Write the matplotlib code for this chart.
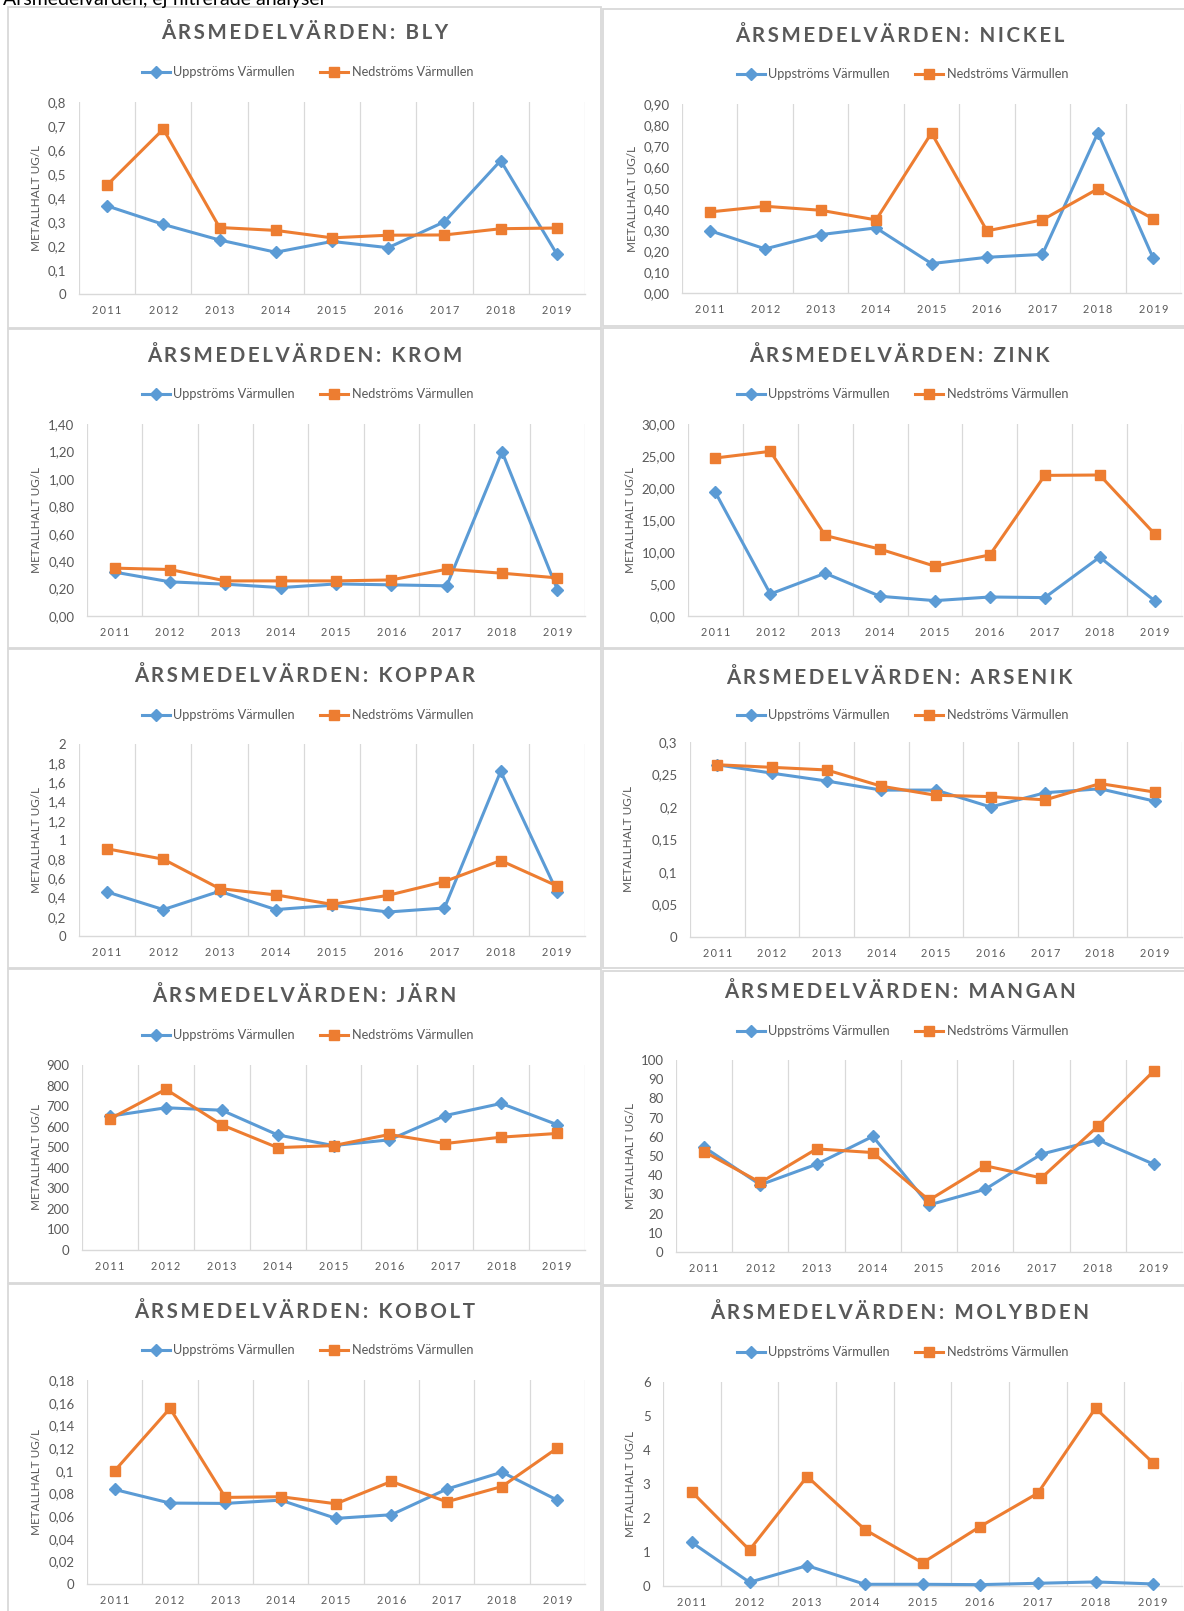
import matplotlib
matplotlib.use("Agg")
import matplotlib.pyplot as plt
from matplotlib.patches import Rectangle

# ---------------------------------------------------------------- data
years = [2011, 2012, 2013, 2014, 2015, 2016, 2017, 2018, 2019]
series_names = ["Uppströms Värmullen", "Nedströms Värmullen"]

bly_upp = [0.367, 0.290, 0.225, 0.174, 0.219, 0.193, 0.301, 0.556, 0.166]
bly_ned = [0.454, 0.687, 0.277, 0.265, 0.234, 0.245, 0.246, 0.272, 0.275]

nickel_upp = [0.297, 0.210, 0.278, 0.310, 0.140, 0.170, 0.184, 0.762, 0.165]
nickel_ned = [0.386, 0.413, 0.394, 0.348, 0.762, 0.296, 0.348, 0.496, 0.353]

krom_upp = [0.320, 0.249, 0.232, 0.207, 0.234, 0.227, 0.220, 1.198, 0.193]
krom_ned = [0.349, 0.339, 0.256, 0.256, 0.256, 0.263, 0.341, 0.312, 0.278]

zink_upp = [19.30, 3.44, 6.68, 3.08, 2.40, 2.97, 2.87, 9.19, 2.40]
zink_ned = [24.69, 25.73, 12.58, 10.44, 7.78, 9.55, 21.97, 22.03, 12.84]

koppar_upp = [0.459, 0.275, 0.466, 0.275, 0.320, 0.250, 0.292, 1.715, 0.463]
koppar_ned = [0.908, 0.800, 0.494, 0.428, 0.330, 0.424, 0.567, 0.786, 0.522]

arsenik_upp = [0.265, 0.252, 0.240, 0.226, 0.226, 0.200, 0.222, 0.228, 0.209]
arsenik_ned = [0.265, 0.261, 0.257, 0.232, 0.218, 0.216, 0.211, 0.236, 0.223]

jarn_upp = [651, 692, 680, 560, 508, 536, 654, 713, 610]
jarn_ned = [638, 782, 609, 498, 508, 562, 518, 549, 567]

mangan_upp = [54.6, 35.0, 45.7, 60.2, 24.5, 32.7, 51.0, 58.4, 45.7]
mangan_ned = [52.3, 36.2, 53.7, 51.8, 27.0, 44.9, 38.6, 65.4, 94.3]

kobolt_upp = [0.0834, 0.0714, 0.0711, 0.0740, 0.0579, 0.0611, 0.0837, 0.0987, 0.0740]
kobolt_ned = [0.0999, 0.1550, 0.0764, 0.0770, 0.0708, 0.0905, 0.0725, 0.0860, 0.1200]

molybden_upp = [1.28, 0.11, 0.60, 0.05, 0.05, 0.04, 0.08, 0.12, 0.06]
molybden_ned = [2.77, 1.06, 3.22, 1.66, 0.68, 1.75, 2.73, 5.23, 3.62]

metals = ["BLY", "NICKEL", "KROM", "ZINK", "KOPPAR",
          "ARSENIK", "JÄRN", "MANGAN", "KOBOLT", "MOLYBDEN"]
upp_values = [bly_upp, nickel_upp, krom_upp, zink_upp, koppar_upp,
              arsenik_upp, jarn_upp, mangan_upp, kobolt_upp, molybden_upp]
ned_values = [bly_ned, nickel_ned, krom_ned, zink_ned, koppar_ned,
              arsenik_ned, jarn_ned, mangan_ned, kobolt_ned, molybden_ned]
# y axis: (max, step, decimals or None for general number format)
y_axes = [(0.8, 0.1, None), (0.9, 0.1, 2), (1.4, 0.2, 2), (30, 5, 2),
          (2.0, 0.2, None), (0.3, 0.05, None), (900, 100, None),
          (100, 10, None), (0.18, 0.02, None), (6, 1, None)]

page_title = "Årsmedelvärden, ej filtrerade analyser"
chart_title = "ÅRSMEDELVÄRDEN: "
y_label = "METALLHALT UG/L"

# ---------------------------------------------------------------- layout (pixels)
W, H, DPI = 1184, 1611, 100
# frame (x0, y0, x1, y1), plot (left, right, top, bottom), title y, legend y, ylabel x
layout = [
    ((8, 7, 601, 328),      (79, 585, 102, 294),    33, 72, 36),
    ((603, 9, 1192, 326),   (682, 1181, 104, 293),  36, 74, 633),
    ((8, 329, 601, 648),    (87, 585, 424, 616),    356, 394, 37),
    ((603, 328, 1192, 648), (688, 1182, 424, 616),  356, 394, 630),
    ((8, 649, 601, 968),    (79, 585, 744, 936),    676, 715, 37),
    ((603, 649, 1192, 968), (690, 1182, 742, 937),  678, 715, 629),
    ((8, 969, 601, 1283),   (82, 585, 1065, 1250),  996, 1035, 37),
    ((603, 971, 1192, 1285), (676, 1182, 1060, 1252), 992, 1031, 630),
    ((8, 1284, 601, 1625),  (87, 585, 1380, 1584),  1312, 1350, 37),
    ((603, 1286, 1192, 1625), (663, 1182, 1382, 1586), 1313, 1352, 631),
]

BLUE = "#5B9BD5"
ORANGE = "#ED7D31"
TEXT = "#595959"
GRID = "#D9D9D9"
FRAME = "#D9D9D9"

plt.rcParams["font.family"] = ["Lato", "DejaVu Sans"]

fig = plt.figure(figsize=(W / DPI, H / DPI), dpi=DPI)
fig.patch.set_facecolor("white")


def fx(x):
    return x / W


def fy(y):
    return 1 - y / H


def spaced(s, sep="\u2009"):
    return sep.join(s)


def fmt_number(v, decimals):
    if decimals is None:
        s = f"{round(v, 10):g}"
    else:
        s = f"{v:.{decimals}f}"
    return s.replace(".", ",")


fig.text(fx(3), fy(5), page_title, fontsize=14, color="black",
         ha="left", va="baseline")

for i, name in enumerate(metals):
    frame, plot, ty, ly, ylx = layout[i]
    x0, y0, x1, y1 = frame
    fig.add_artist(Rectangle((fx(x0), fy(y1)), fx(x1 - x0), (y1 - y0) / H,
                             transform=fig.transFigure, facecolor="white",
                             edgecolor=FRAME, linewidth=1.3, zorder=-5))
    l, r, t, b = plot
    ax = fig.add_axes([fx(l), fy(b), fx(r - l), (b - t) / H])
    ax.set_facecolor("none")

    ymax, step, dec = y_axes[i]
    n = int(round(ymax / step))
    yt = [k * step for k in range(n + 1)]
    ax.set_ylim(0, ymax)
    ax.set_yticks(yt)
    ax.set_yticklabels([fmt_number(v, dec) for v in yt])
    ax.set_xlim(years[0] - 0.5, years[-1] + 0.5)
    ax.set_xticks(years)
    ax.set_xticklabels([spaced(str(y_)) for y_ in years])
    ax.set_xticks([y_ - 0.5 for y_ in years] + [years[-1] + 0.5], minor=True)
    ax.grid(True, which="minor", axis="x", color=GRID, linewidth=0.9)
    ax.grid(False, which="major")
    ax.tick_params(axis="both", which="both", length=0)
    ax.tick_params(axis="y", labelsize=9.5, labelcolor=TEXT, pad=9)
    ax.tick_params(axis="x", labelsize=7.8, labelcolor=TEXT, pad=8)
    for side in ("left", "right", "top"):
        ax.spines[side].set_visible(False)
    ax.spines["bottom"].set_color(GRID)
    ax.spines["bottom"].set_linewidth(1.0)

    ax.plot(years, upp_values[i], color=BLUE, linewidth=2.2, marker="D",
            markersize=5.8, label=series_names[0], clip_on=False, zorder=3)
    ax.plot(years, ned_values[i], color=ORANGE, linewidth=2.2, marker="s",
            markersize=6.8, label=series_names[1], clip_on=False, zorder=4)

    cx = (x0 + min(x1, W)) / 2 + (6 if x0 > 600 else 0)
    fig.text(fx(cx), fy(ty), spaced(chart_title + name), fontsize=14.8,
             fontweight="bold", color=TEXT, ha="center", va="center")

    leg = ax.legend(loc="center", bbox_to_anchor=(fx(cx + 3), fy(ly)),
                    bbox_transform=fig.transFigure, ncol=2, frameon=False,
                    fontsize=9.2, handlelength=2.2, handletextpad=0.25,
                    columnspacing=2.0, borderpad=0, numpoints=1)
    for txt in leg.get_texts():
        txt.set_color(TEXT)

    fig.text(fx(ylx), fy((t + b) / 2), y_label, rotation=90, fontsize=8.5,
             color=TEXT, ha="center", va="center")

fig.savefig("out.png", dpi=DPI, facecolor="white")
